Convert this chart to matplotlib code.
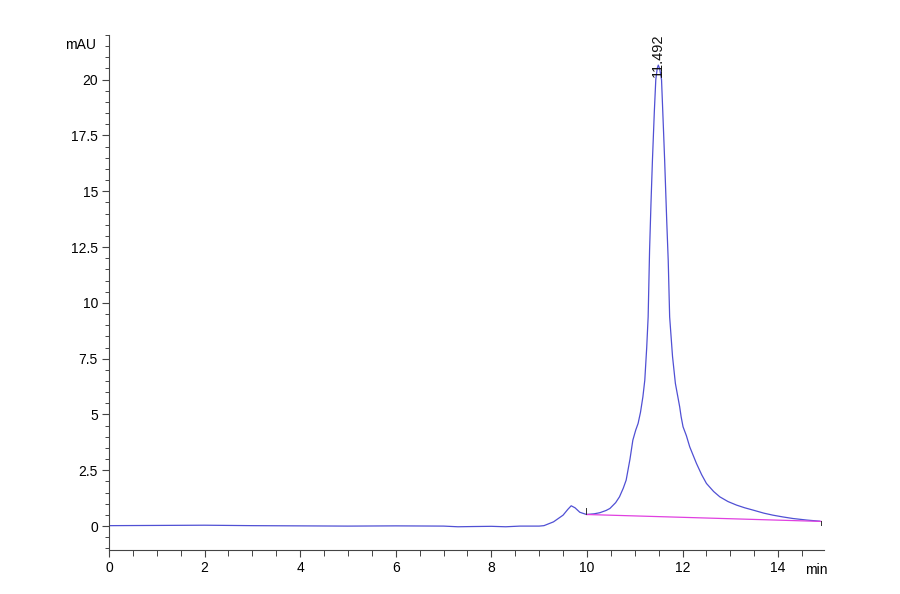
import matplotlib
matplotlib.use("Agg")
import matplotlib.pyplot as plt
from matplotlib.ticker import MultipleLocator

plt.rcParams['font.family'] = ['Liberation Sans', 'DejaVu Sans']

# chromatogram trace (min, mAU)
time_min = [0.0, 1.0, 2.0, 3.0, 4.0, 5.0, 6.0, 7.0, 7.3, 7.6, 8.0, 8.3, 8.6,
            9.0, 9.1, 9.3, 9.5, 9.6, 9.67, 9.75, 9.85, 9.99, 10.15, 10.27,
            10.4, 10.48, 10.6, 10.68, 10.76, 10.82, 10.9, 10.96, 11.02, 11.07,
            11.12, 11.17, 11.21, 11.25, 11.28, 11.31, 11.34, 11.37, 11.41,
            11.44, 11.47, 11.492, 11.52, 11.56, 11.6, 11.625, 11.67, 11.70,
            11.73, 11.79, 11.85, 11.94, 11.97, 12.01, 12.08, 12.15, 12.29,
            12.4, 12.5, 12.65, 12.78, 12.95, 13.13, 13.3, 13.47, 13.7, 13.89,
            14.1, 14.31, 14.6, 14.87]
signal_mau = [0.02, 0.03, 0.04, 0.02, 0.01, 0.0, 0.01, 0.0, -0.03, -0.02,
              -0.01, -0.03, 0.0, 0.0, 0.02, 0.19, 0.49, 0.75, 0.91, 0.82,
              0.62, 0.52, 0.55, 0.60, 0.70, 0.79, 1.05, 1.31, 1.7, 2.06, 3.0,
              3.85, 4.3, 4.6, 5.1, 5.79, 6.54, 8.0, 9.37, 12.36, 14.5, 16.4,
              18.6, 20.0, 20.5, 20.65, 20.5, 20.0, 17.8, 16.4, 13.6, 11.9,
              9.37, 7.6, 6.39, 5.34, 4.9, 4.45, 4.05, 3.55, 2.81, 2.3, 1.91,
              1.55, 1.31, 1.1, 0.94, 0.82, 0.72, 0.58, 0.49, 0.41, 0.34,
              0.27, 0.22]

# integration baseline and peak annotation
baseline_t = [9.99, 14.9]
baseline_y = [0.52, 0.21]
peak_rt = 11.492
peak_label = "11.492"

fig = plt.figure(figsize=(9, 5.94), dpi=100)
ax = fig.add_axes([0.1211, 0.0741, 0.7945, 0.867])

ax.plot(time_min, signal_mau, color='#5050d4', lw=0.9)
ax.plot(baseline_t, baseline_y, color='#e040e0', lw=0.9)

# integration start/end markers
ax.plot([baseline_t[0], baseline_t[0]], [baseline_y[0], baseline_y[0] + 0.3],
        color='#333333', lw=0.7)
ax.plot([baseline_t[1], baseline_t[1]], [baseline_y[1] - 0.15, baseline_y[1]],
        color='#333333', lw=0.7)

ax.text(peak_rt, 20.1, peak_label, rotation=90, ha='center', va='bottom',
        fontsize=10.5, color='#111111')

ax.set_xlim(0, 14.96)
ax.set_ylim(-1.07, 22.0)
ax.xaxis.set_major_locator(MultipleLocator(2))
ax.xaxis.set_minor_locator(MultipleLocator(0.5))
ax.yaxis.set_major_locator(MultipleLocator(2.5))
ax.yaxis.set_minor_locator(MultipleLocator(0.5))
ax.set_yticks([0, 2.5, 5, 7.5, 10, 12.5, 15, 17.5, 20])
ax.set_yticklabels(['0', '2.5', '5', '7.5', '10', '12.5', '15', '17.5', '20'])

for s in ['top', 'right']:
    ax.spines[s].set_visible(False)
for s in ['left', 'bottom']:
    ax.spines[s].set_color('#444444')
    ax.spines[s].set_linewidth(0.8)

ax.tick_params(which='major', length=5, width=0.8, color='#444444',
               labelsize=10, pad=3)
ax.tick_params(which='minor', length=3, width=0.7, color='#444444')
ax.tick_params(axis='x', which='minor', length=4)

ax.text(-0.018, 21.55, 'mAU', transform=ax.get_yaxis_transform(),
        ha='right', va='center', fontsize=10)
ax.text(14.8, -0.025, 'min', transform=ax.get_xaxis_transform(),
        ha='center', va='top', fontsize=10)

fig.savefig('out.png', dpi=100)
